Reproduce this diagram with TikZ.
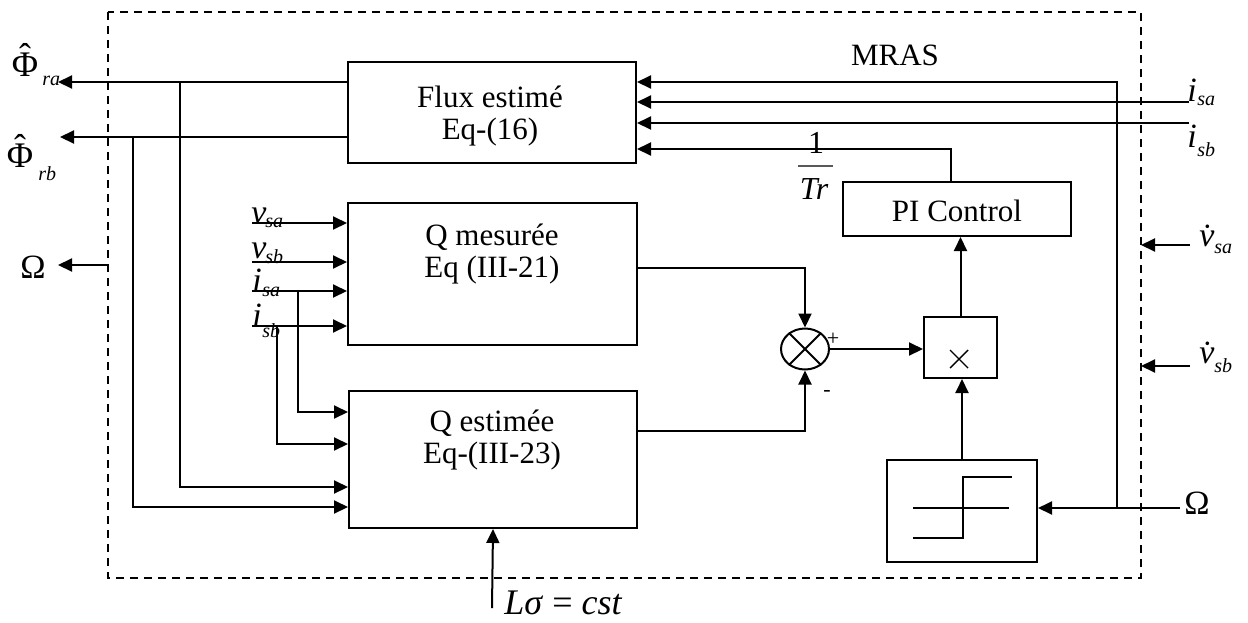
\documentclass[tikz,border=0pt]{standalone}
\usepackage{fontspec}
\setmainfont{Liberation Serif}
\usetikzlibrary{arrows.meta,calc,shapes.geometric}
\newcommand{\hatphi}{\ooalign{Φ\cr\hidewidth\raisebox{0.2em}{\char"02C6}\hidewidth\cr}}
\begin{document}
\begin{tikzpicture}[x=0.5pt,y=-0.5pt,
  blk/.style={draw, line width=1pt, inner sep=0pt},
  ln/.style={line width=1pt},
  arr/.style={line width=1pt, -{Triangle[length=7pt,width=6.5pt]}},
  frame/.style={line width=0.8pt, dash pattern=on 4pt off 3pt},
  txt/.style={font=\fontsize{15.5}{16}\selectfont, align=center, inner sep=0pt},
  sym/.style={font=\fontsize{17}{17}\selectfont, inner sep=0pt},
  big/.style={font=\fontsize{18}{18}\selectfont, inner sep=0pt},
  sub/.style={font=\fontsize{10}{10}\selectfont\itshape, inner sep=0pt},
  small/.style={font=\fontsize{11}{11}\selectfont, inner sep=0pt}]
\useasboundingbox (0,0) rectangle (1248,622);

% frame
\draw[frame] (108,12) rectangle (1141,578);
\node[txt] (mras) at (895,55) {MRAS};

% blocks
\node[blk, minimum width=144pt, minimum height=50.5pt] (flux) at (492,112.5) {};
\node[txt] (fluxt) at (490,116) {Flux estimé\\Eq-(16)};
\node[blk, minimum width=144.5pt, minimum height=71pt] (qm) at (492.5,274) {};
\node[txt] (qmt) at (492,254) {Q mesurée\\Eq (III-21)};
\node[blk, minimum width=144pt, minimum height=68.5pt] (qe) at (493,459.5) {};
\node[txt] (qet) at (492,440) {Q estimée\\Eq-(III-23)};
\node[blk, minimum width=114pt, minimum height=27pt] (pi) at (957,209) {};
\node[txt] (pit) at (957,211) {PI Control};
\node[blk, minimum width=36.5pt, minimum height=30.5pt] (mult) at (960.5,347.5) {};
\draw[line width=0.7pt] (950,350) -- (968,368) (950,368) -- (968,350);
\node[blk, minimum width=75pt, minimum height=51pt] (sat) at (962,511) {};
\draw[ln] (913,508) -- (1009,508);
\draw[ln] (913,538) -- (963,538) -- (963,477) -- (1012,477);
\node[draw, ellipse, line width=1pt, minimum width=24pt, minimum height=20.5pt, inner sep=0pt] (sum) at (805,349) {};
\draw[ln] (sum.45) -- (sum.225) (sum.135) -- (sum.315);
\node[small] (plus) at (833,339) {+};
\node[small] (minus) at (827,393) {-};

% outputs left
\coordinate (phira) at (58,82);
\coordinate (phirb) at (60,137);
\draw[arr] (flux.west|-phira) -- (phira);
\draw[arr] (flux.west|-phirb) -- (phirb);
\node[big, anchor=base] (lphia) at (25,76) {\hatphi};
\node[sub, anchor=west] (lphias) at (42,81) {ra};
\node[big, anchor=base] (lphib) at (20,167) {\hatphi};
\node[sub, anchor=west] (lphibs) at (38,174) {rb};
\coordinate (bra) at (180,82);
\coordinate (brb) at (133,137);
\draw[arr] (bra) -- (180,487) -- (qe.west|-0,487);
\draw[arr] (brb) -- (133,507) -- (qe.west|-0,507);
\coordinate (omLs) at (108,265);
\coordinate (omL) at (58,265);
\draw[arr] (omLs) -- (omL);
\node[sym] (lomL) at (33,267) {Ω};

% inputs to Q mesurée
\coordinate (vsa) at (252,223);
\coordinate (vsb) at (252,262);
\coordinate (isai) at (252,291);
\coordinate (isbi) at (252,326);
\draw[arr] (vsa) -- (qm.west|-vsa);
\draw[arr] (vsb) -- (qm.west|-vsb);
\draw[arr] (isai) -- (qm.west|-isai);
\draw[arr] (isbi) -- (qm.west|-isbi);
\node[sym, anchor=south west] (lvsa) at (251,224) {\textit{v}};
\node[sub, anchor=west] (lvsas) at (265,223) {sa};
\node[sym, anchor=south west] (lvsb) at (251,259) {\textit{v}};
\node[sub, anchor=west] (lvsbs) at (265,257) {sb};
\node[sym, anchor=south west] (lisa) at (252,292) {\textit{i}};
\node[sub, anchor=west] (lisas) at (262,292) {sa};
\node[sym, anchor=south west] (lisb) at (252,327) {\textit{i}};
\node[sub, anchor=west] (lisbs) at (262,331) {sb};
\coordinate (jsa) at (298,291);
\coordinate (jsb) at (277,326);
\draw[arr] (jsa) -- (298,412) -- (qe.west|-0,412);
\draw[arr] (jsb) -- (277,444) -- (qe.west|-0,444);

% L sigma
\coordinate (lsig) at (492,608);
\draw[arr] (lsig) -- (qe.south);
\node[font=\fontsize{18}{18}\selectfont, inner sep=0pt, anchor=west] (llsig) at (504,603) {\textit{Lσ} = \textit{cst}};

% summation
\draw[arr] (qm.east|-0,268) -- (805,268) -- (sum.north);
\draw[arr] (qe.east|-0,431) -- (805,431) -- (sum.south);
\draw[arr] (sum.east) -- (mult.west|-sum.east);
\draw[arr] (mult.north) -- (pi.south-|mult.north);
\draw[arr] (sat.north) -- (mult.south-|sat.north);

% PI to flux
\draw[arr] (pi.north-|951,0) -- (951,149) -- (flux.east|-0,149);
\node[font=\fontsize{16}{16}\selectfont, inner sep=0pt] (one) at (816,143) {1};
\draw[line width=1pt, draw=black!65] (798,166) -- (833,166);
\node[font=\fontsize{16}{16}\selectfont\itshape, inner sep=0pt] (tr) at (814,189) {Tr};

% right inputs
\coordinate (omR) at (1180,508);
\coordinate (jR) at (1117,508);
\draw[arr] (omR) -- (sat.east|-omR);
\draw[arr] (jR) -- (1117,82) -- (flux.east|-0,82);
\node[sym] (lomR) at (1197,503) {Ω};
\coordinate (isa) at (1189,102);
\coordinate (isb) at (1189,123);
\draw[arr] (isa) -- (flux.east|-isa);
\draw[arr] (isb) -- (flux.east|-isb);
\node[sym, anchor=south west] (lisaR) at (1187,102) {\textit{i}};
\node[sub, anchor=west] (lisaRs) at (1197,101) {sa};
\node[sym, anchor=south west] (lisbR) at (1187,148) {\textit{i}};
\node[sub, anchor=west] (lisbRs) at (1197,150) {sb};
\coordinate (vdsa) at (1190,245);
\coordinate (vdsb) at (1190,366);
\coordinate (vdsae) at (1141,245);
\coordinate (vdsbe) at (1141,366);
\draw[arr] (vdsa) -- (vdsae);
\draw[arr] (vdsb) -- (vdsbe);
\node[sym, anchor=south west] (lvdsa) at (1199,247) {\textit{\.{v}}};
\node[sub, anchor=west] (lvdsas) at (1214,249) {sa};
\node[sym, anchor=south west] (lvdsb) at (1199,364) {\textit{\.{v}}};
\node[sub, anchor=west] (lvdsbs) at (1214,366) {sb};
\end{tikzpicture}
\end{document}
